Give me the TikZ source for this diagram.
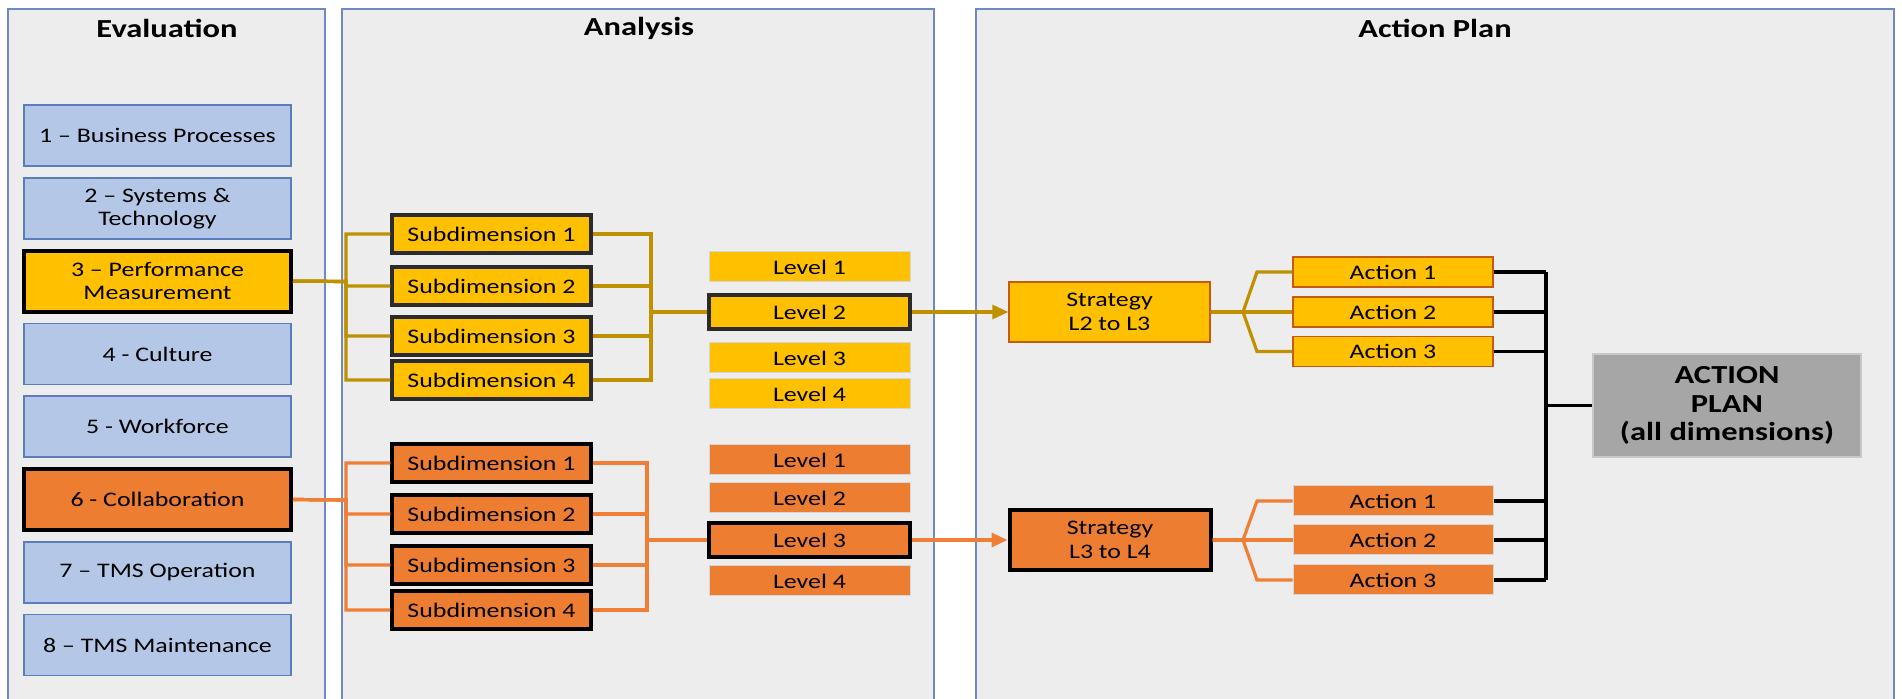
\documentclass[tikz,border=0pt]{standalone}
\usepackage{fontspec}
\setmainfont{Carlito}[FakeStretch=1.25]
\usetikzlibrary{arrows.meta}

\definecolor{panelgray}{HTML}{EDEDED}
\definecolor{panelline}{HTML}{7089C0}
\definecolor{evalfill}{HTML}{B4C7E7}
\definecolor{evalline}{HTML}{5B7DBD}
\definecolor{yfill}{HTML}{FFC000}
\definecolor{yline}{HTML}{BF9000}
\definecolor{ofill}{HTML}{ED7D31}
\definecolor{oline}{HTML}{EF7F35}
\definecolor{brownline}{HTML}{C55A11}
\definecolor{lvlline}{HTML}{D6D6D6}
\definecolor{subgray}{HTML}{2B2B2B}
\definecolor{planfill}{HTML}{A6A6A6}
\definecolor{planline}{HTML}{C8C8C8}

\tikzset{
  paneltitle/.style={font=\fontsize{13}{15}\selectfont\bfseries},
  evalbox/.style={draw=evalline, line width=0.8pt, fill=evalfill, minimum width=133.5pt,
    minimum height=30.5pt, inner sep=0pt, align=center},
  evalyel/.style={evalbox, draw=black, line width=2pt, fill=yfill},
  evalorg/.style={evalbox, draw=black, line width=2pt, fill=ofill},
  subbox/.style={line width=1.75pt, minimum width=99.5pt, minimum height=19pt, inner sep=0pt},
  lvlbox/.style={draw=lvlline, line width=0.5pt, minimum width=100.5pt, minimum height=15pt, inner sep=0pt},
  lvlsel/.style={draw=subgray, line width=2pt, minimum width=100.5pt, minimum height=17pt, inner sep=0pt},
  lvlselblk/.style={lvlsel, draw=black},
  stratbox/.style={minimum width=100.5pt, minimum height=30pt, inner sep=0pt, align=center,
    font=\fontsize{10.35}{12}\selectfont},
  actbox/.style={minimum width=100pt, minimum height=15pt, inner sep=0pt},
  planbox/.style={fill=planfill, draw=planline, line width=0.6pt, minimum width=134pt,
    minimum height=51.5pt, inner sep=0pt, align=center, font=\fontsize{13}{14.3}\selectfont\bfseries},
  ylink/.style={draw=yline, line width=1.6pt},
  olink/.style={draw=oline, line width=1.6pt},
  blink/.style={draw=black, line width=1.75pt},
}

\begin{document}
\begin{tikzpicture}[x=0.5pt, y=-0.5pt, font=\fontsize{10.35}{11.5}\selectfont]
  \useasboundingbox (0,0) rectangle (1902,699);

  % Panels
  \fill[panelgray] (8,9) rectangle (325,699);
  \fill[panelgray] (342,9) rectangle (934,699);
  \fill[panelgray] (976,9) rectangle (1894,699);
  \draw[panelline, line width=0.75pt] (8,699) |- (325,9) -- (325,699);
  \draw[panelline, line width=0.75pt] (342,699) |- (934,9) -- (934,699);
  \draw[panelline, line width=0.75pt] (976,699) |- (1894,9) -- (1894,699);
  \node[paneltitle] (teval) at (167,28) {Evaluation};
  \node[paneltitle] (tana) at (639,28) {Analysis};
  \node[paneltitle] (tplan) at (1435,28) {Action Plan};

  % Evaluation dimensions
  \foreach \i/\txt/\sty in {1/{1 -- Business Processes}/evalbox,
      2/{2 -- Systems \&\\Technology}/evalbox,
      3/{3 -- Performance\\Measurement}/evalyel,
      4/{4 - Culture}/evalbox,
      5/{5 - Workforce}/evalbox,
      6/{6 - Collaboration}/evalorg,
      7/{7 -- TMS Operation}/evalbox,
      8/{8 -- TMS Maintenance}/evalbox}
    \node[\sty] (e\i) at (157.5,{135.5+72.8*(\i-1)}) {\txt};

  % Subdimensions
  \foreach \i/\y in {1/234,2/286,3/336,4/380}
    \node[subbox, fill=yfill, draw=subgray] (ys\i) at (491.5,\y) {Subdimension \i};
  \foreach \i/\y in {1/463,2/514,3/565,4/610}
    \node[subbox, fill=ofill, draw=black] (os\i) at (491.5,\y) {Subdimension \i};

  % Levels
  \foreach \i/\y/\sty in {1/267/lvlbox,2/312/lvlsel,3/358/lvlbox,4/394/lvlbox}
    \node[\sty, fill=yfill] (yl\i) at (809.5,\y) {Level \i};
  \foreach \i/\y/\sty in {1/460/lvlbox,2/498/lvlbox,3/540/lvlselblk,4/581/lvlbox}
    \node[\sty, fill=ofill] (ol\i) at (809.5,\y) {Level \i};

  % Strategies
  \node[stratbox, fill=yfill, draw=brownline, line width=0.6pt] (yst) at (1109.5,312) {Strategy\\L2 to L3};
  \node[stratbox, fill=ofill, draw=black, line width=2pt] (ost) at (1110,540) {Strategy\\L3 to L4};

  % Actions
  \foreach \i/\y in {1/272,2/312,3/351.5}
    \node[actbox, fill=yfill, draw=brownline, line width=0.6pt] (ya\i) at (1393,\y) {Action \i};
  \foreach \i/\y in {1/501,2/540,3/580}
    \node[actbox, fill=ofill, draw=lvlline, line width=0.5pt] (oa\i) at (1393,\y) {Action \i};

  \node[planbox] (plan) at (1727,405.5) {ACTION\\PLAN\\(all dimensions)};

  % Buses
  \coordinate (ybl) at (346,281.5);
  \coordinate (ybr) at (651,312);
  \coordinate (obl) at (346,500);
  \coordinate (obr) at (647,540);
  \coordinate (yfork) at (1243,312);
  \coordinate (ofork) at (1243,540);
  \coordinate (brk) at (1546,405.5);

  % Yellow links
  \foreach \i in {1,...,4} {
    \draw[ylink] (e3.east) -- (ybl) |- (ys\i.west);
    \draw[ylink] (ys\i.east) -| (ybr) -- (yl2.west);
  }
  \draw[ylink, -{Triangle[length=8pt,width=7pt]}] (yl2.east) -- (yst.west);
  \foreach \i in {1,2,3}
    \draw[ylink] (yst.east) -- (yfork) -- ([xshift=7pt]yfork |- ya\i.west) -- (ya\i.west);

  % Orange links
  \foreach \i in {1,...,4} {
    \draw[olink] (e6.east) -- (obl) |- (os\i.west);
    \draw[olink] (os\i.east) -| (obr) -- (ol3.west);
  }
  \draw[olink, -{Triangle[length=8pt,width=7pt]}] (ol3.east) -- (ost.west);
  \foreach \i in {1,2,3}
    \draw[olink] (ost.east) -- (ofork) -- ([xshift=7pt]ofork |- oa\i.west) -- (oa\i.west);

  % Action plan bracket
  \foreach \a in {ya1,ya2,ya3,oa1,oa2,oa3}
    \draw[blink] (\a.east) -- (\a.east -| brk);
  \draw[blink] (ya1.east -| brk) -- (oa3.east -| brk);
  \draw[blink] (brk) -- (plan.west);
\end{tikzpicture}
\end{document}
